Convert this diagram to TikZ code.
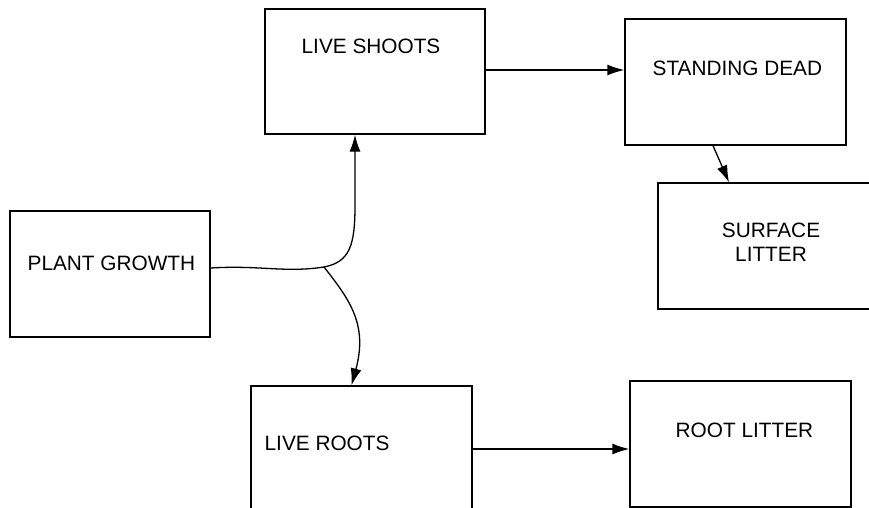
\documentclass[tikz,border=0pt]{standalone}
\usepackage{fontspec}
\setmainfont{Liberation Sans}
\usetikzlibrary{arrows.meta}

\begin{document}
\begin{tikzpicture}[x=1pt,y=-1pt,line width=1.3pt,
  box/.style={draw,rectangle,inner sep=0pt,minimum width=221pt,minimum height=126pt},
  lbl/.style={anchor=base west,inner sep=0pt,font=\fontsize{20.8}{24}\selectfont},
  flow/.style={-{Latex[length=17pt,width=11pt]}}]
\useasboundingbox (0,0) rectangle (869,508);
\clip (0,0) rectangle (869,508);
\node[box,minimum width=220pt,minimum height=125pt] (shoots) at (375,71.5) {};
\node[box] (dead) at (735.5,82) {};
\node[box] (surface) at (768.5,246) {};
\node[box,minimum width=200pt] (growth) at (110,274) {};
\node[box] (roots) at (361.5,449) {};
\node[box] (litter) at (740.5,444) {};
\node[lbl] (shootstxt) at (301,54) {LIVE SHOOTS};
\node[lbl] (deadtxt) at (652,76) {STANDING DEAD};
\node[lbl,anchor=base,align=center] (surfacetxt) at (771,261) {SURFACE\\LITTER};
\node[lbl] (growthtxt) at (27,270) {PLANT GROWTH};
\node[lbl] (rootstxt) at (264,450) {LIVE ROOTS};
\node[lbl] (littertxt) at (675,437) {ROOT LITTER};
\coordinate (fork) at (324,267);
\draw ([yshift=6pt]growth.east) .. controls (260,265) and (285,273) .. (fork);
\draw[flow] (fork) .. controls (350,262) and (355,245) .. (355,205) -- ([xshift=-20pt]shoots.south);
\draw[flow] (fork) .. controls (350,300) and (368,325) .. ([xshift=-10pt]roots.north);
\draw[flow] ([yshift=1.5pt]shoots.east) -- ([yshift=1.5pt]shoots.east -| dead.west);
\draw[flow] ([xshift=-22.5pt]dead.south) -- ([xshift=-39.5pt]surface.north);
\draw[flow] (roots.east) -- (roots.east -| litter.west);
\end{tikzpicture}
\end{document}
